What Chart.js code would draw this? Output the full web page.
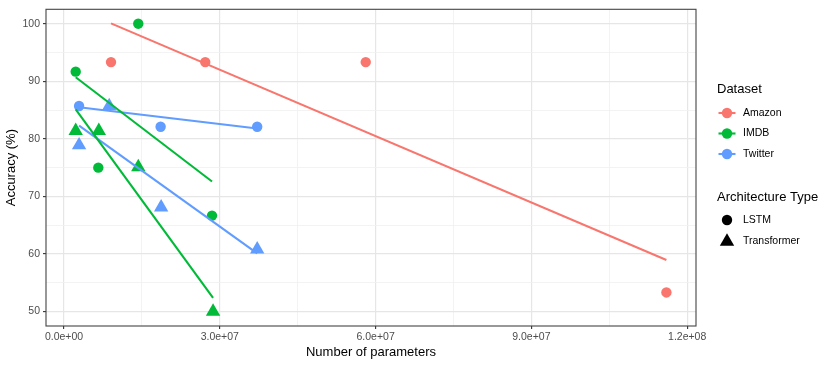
<!DOCTYPE html>
<html>
<head>
<meta charset="utf-8">
<script src="https://cdn.jsdelivr.net/npm/chart.js@4/dist/chart.umd.min.js"></script>
<style>
  html, body { margin: 0; padding: 0; background: #fff; }
  #wrap { width: 830px; height: 365px; }
</style>
</head>
<body>
<div id="wrap"><canvas id="chart" width="830" height="365"></canvas></div>
<script>
// values
const datasets = ['Amazon', 'IMDB', 'Twitter'];
const archTypes = ['LSTM', 'Transformer'];
const colors = ['#F8766D', '#00BA38', '#619CFF'];

const amazonLstmParams = [9.05e6, 27.2e6, 58.1e6, 116e6];
const amazonLstmAcc = [93.33, 93.33, 93.33, 53.33];

const imdbLstmParams = [2.25e6, 6.6e6, 14.3e6, 28.5e6];
const imdbLstmAcc = [91.67, 75.0, 100, 66.67];
const imdbTransParams = [2.25e6, 6.7e6, 14.3e6, 28.7e6];
const imdbTransAcc = [81.4, 81.4, 75.1, 50.0];

const twitterLstmParams = [2.9e6, 18.6e6, 37.2e6];
const twitterLstmAcc = [85.7, 82.1, 82.1];
const twitterTransParams = [2.9e6, 8.7e6, 18.7e6, 37.2e6];
const twitterTransAcc = [78.9, 85.7, 68.1, 60.8];

// fitted trend lines (endpoints as seen in the picture)
const amazonLstmFitX = [9.05e6, 116e6];
const amazonLstmFitY = [100.05, 58.95];
const imdbLstmFitX = [2.25e6, 28.5e6];
const imdbLstmFitY = [90.7, 72.6];
const imdbTransFitX = [2.25e6, 28.7e6];
const imdbTransFitY = [85.1, 52.4];
const twitterLstmFitX = [2.9e6, 37.2e6];
const twitterLstmFitY = [85.5, 81.8];
const twitterTransFitX = [2.9e6, 37.2e6];
const twitterTransFitY = [82.3, 60.1];

const xTicks = [0, 1.5e7, 3e7, 4.5e7, 6e7, 7.5e7, 9e7, 1.05e8, 1.2e8];
const yTicks = [50, 55, 60, 65, 70, 75, 80, 85, 90, 95, 100];

const FONT = '"Liberation Sans", Arial, Helvetica, sans-serif';

function zip(xs, ys) {
    return xs.map((x, i) => ({ x: x, y: ys[i] }));
}

function pointSet(label, xs, ys, color, shape) {
    return {
        type: 'scatter',
        label: label,
        data: zip(xs, ys),
        backgroundColor: color,
        borderColor: color,
        borderWidth: 0,
        pointStyle: shape,
        pointRadius: shape === 'triangle' ? 8.3 : 5.2,
        pointHoverRadius: shape === 'triangle' ? 8.3 : 5.2,
        order: 2
    };
}

function fitSet(label, xs, ys, color) {
    return {
        type: 'line',
        label: label,
        data: zip(xs, ys),
        borderColor: color,
        borderWidth: 2.1,
        pointRadius: 0,
        fill: false,
        order: 1
    };
}

function fmtSci(v) {
    // R style: 3.0e+07
    const s = v.toExponential(1);
    return s.replace(/e([+-])(\d)$/, 'e$10$2');
}

function isMajor(c, step) {
    return c.tick && c.tick.value % step === 0;
}

// panel border + custom ggplot-style legend
const ggExtras = {
    id: 'ggExtras',
    afterDatasetsDraw(chart) {
        const { ctx, chartArea: a } = chart;
        ctx.save();
        ctx.strokeStyle = '#444444';
        ctx.lineWidth = 1.1;
        ctx.strokeRect(a.left, a.top, a.right - a.left, a.bottom - a.top);
        ctx.restore();
    },
    afterDraw(chart) {
        const ctx = chart.ctx;
        const keyX = 727;
        const textX = 743;
        ctx.save();
        ctx.textBaseline = 'middle';
        ctx.textAlign = 'left';

        ctx.fillStyle = '#000';
        ctx.font = '13px ' + FONT;
        ctx.fillText('Dataset', 717, 89);

        const rowY = [113, 133.5, 154];
        ctx.font = '10.5px ' + FONT;
        datasets.forEach((name, i) => {
            const y = rowY[i];
            ctx.strokeStyle = colors[i];
            ctx.lineWidth = 2.1;
            ctx.beginPath();
            ctx.moveTo(keyX - 8.5, y);
            ctx.lineTo(keyX + 8.5, y);
            ctx.stroke();
            ctx.fillStyle = colors[i];
            ctx.beginPath();
            ctx.arc(keyX, y, 5.2, 0, Math.PI * 2);
            ctx.fill();
            ctx.fillStyle = '#000';
            ctx.fillText(name, textX, y);
        });

        ctx.font = '13px ' + FONT;
        ctx.fillText('Architecture Type', 717, 197.5);

        ctx.font = '10.5px ' + FONT;
        ctx.fillStyle = '#000';
        // LSTM
        ctx.beginPath();
        ctx.arc(keyX, 220, 5.2, 0, Math.PI * 2);
        ctx.fill();
        ctx.fillText(archTypes[0], textX, 220);
        // Transformer
        const r = 8.3, cy = 241.5;
        ctx.beginPath();
        ctx.moveTo(keyX, cy - r);
        ctx.lineTo(keyX + r * Math.sqrt(3) / 2, cy + r / 2);
        ctx.lineTo(keyX - r * Math.sqrt(3) / 2, cy + r / 2);
        ctx.closePath();
        ctx.fill();
        ctx.fillText(archTypes[1], textX, 241);
        ctx.restore();
    }
};

const ctx = document.getElementById('chart').getContext('2d');
new Chart(ctx, {
    data: {
        datasets: [
            pointSet('Amazon LSTM', amazonLstmParams, amazonLstmAcc, colors[0], 'circle'),
            pointSet('IMDB LSTM', imdbLstmParams, imdbLstmAcc, colors[1], 'circle'),
            pointSet('IMDB Transformer', imdbTransParams, imdbTransAcc, colors[1], 'triangle'),
            pointSet('Twitter LSTM', twitterLstmParams, twitterLstmAcc, colors[2], 'circle'),
            pointSet('Twitter Transformer', twitterTransParams, twitterTransAcc, colors[2], 'triangle'),
            fitSet('Amazon LSTM fit', amazonLstmFitX, amazonLstmFitY, colors[0]),
            fitSet('IMDB LSTM fit', imdbLstmFitX, imdbLstmFitY, colors[1]),
            fitSet('IMDB Transformer fit', imdbTransFitX, imdbTransFitY, colors[1]),
            fitSet('Twitter LSTM fit', twitterLstmFitX, twitterLstmFitY, colors[2]),
            fitSet('Twitter Transformer fit', twitterTransFitX, twitterTransFitY, colors[2])
        ]
    },
    options: {
        responsive: false,
        animation: false,
        devicePixelRatio: 1,
        layout: { padding: { top: 7, right: 134, left: 0, bottom: 0 } },
        plugins: {
            legend: { display: false },
            tooltip: { enabled: false }
        },
        scales: {
            x: {
                type: 'linear',
                min: -3.47e6,
                max: 121.7e6,
                afterBuildTicks: function (scale) {
                    scale.ticks = xTicks.map(v => ({ value: v }));
                },
                afterFit: function (scale) { scale.height = 39; },
                border: { display: false },
                grid: {
                    color: c => isMajor(c, 3e7) ? '#e6e6e6' : '#f0f0f0',
                    lineWidth: c => isMajor(c, 3e7) ? 1.2 : 0.8,
                    tickColor: c => isMajor(c, 3e7) ? '#333333' : 'rgba(0,0,0,0)',
                    tickLength: 3,
                    tickWidth: 1.1
                },
                ticks: {
                    autoSkip: false,
                    maxRotation: 0,
                    padding: 2,
                    color: '#4d4d4d',
                    font: { family: FONT, size: 10.5 },
                    callback: v => (v % 3e7 === 0) ? fmtSci(v) : ''
                },
                title: {
                    display: true,
                    text: 'Number of parameters',
                    color: '#000',
                    font: { family: FONT, size: 13 },
                    padding: { top: 2, bottom: 5 }
                }
            },
            y: {
                type: 'linear',
                min: 47.5,
                max: 102.5,
                afterBuildTicks: function (scale) {
                    scale.ticks = yTicks.map(v => ({ value: v }));
                },
                afterFit: function (scale) { scale.width = 46; },
                border: { display: false },
                grid: {
                    color: c => isMajor(c, 10) ? '#e6e6e6' : '#f0f0f0',
                    lineWidth: c => isMajor(c, 10) ? 1.2 : 0.8,
                    tickColor: c => isMajor(c, 10) ? '#333333' : 'rgba(0,0,0,0)',
                    tickLength: 3,
                    tickWidth: 1.1
                },
                ticks: {
                    autoSkip: false,
                    padding: 3,
                    color: '#4d4d4d',
                    font: { family: FONT, size: 10.5 },
                    callback: v => (v % 10 === 0) ? String(v) : ''
                },
                title: {
                    display: true,
                    text: 'Accuracy (%)',
                    color: '#000',
                    font: { family: FONT, size: 13 },
                    padding: { top: 4, bottom: 2 }
                }
            }
        }
    },
    plugins: [ggExtras]
});
</script>
</body>
</html>
